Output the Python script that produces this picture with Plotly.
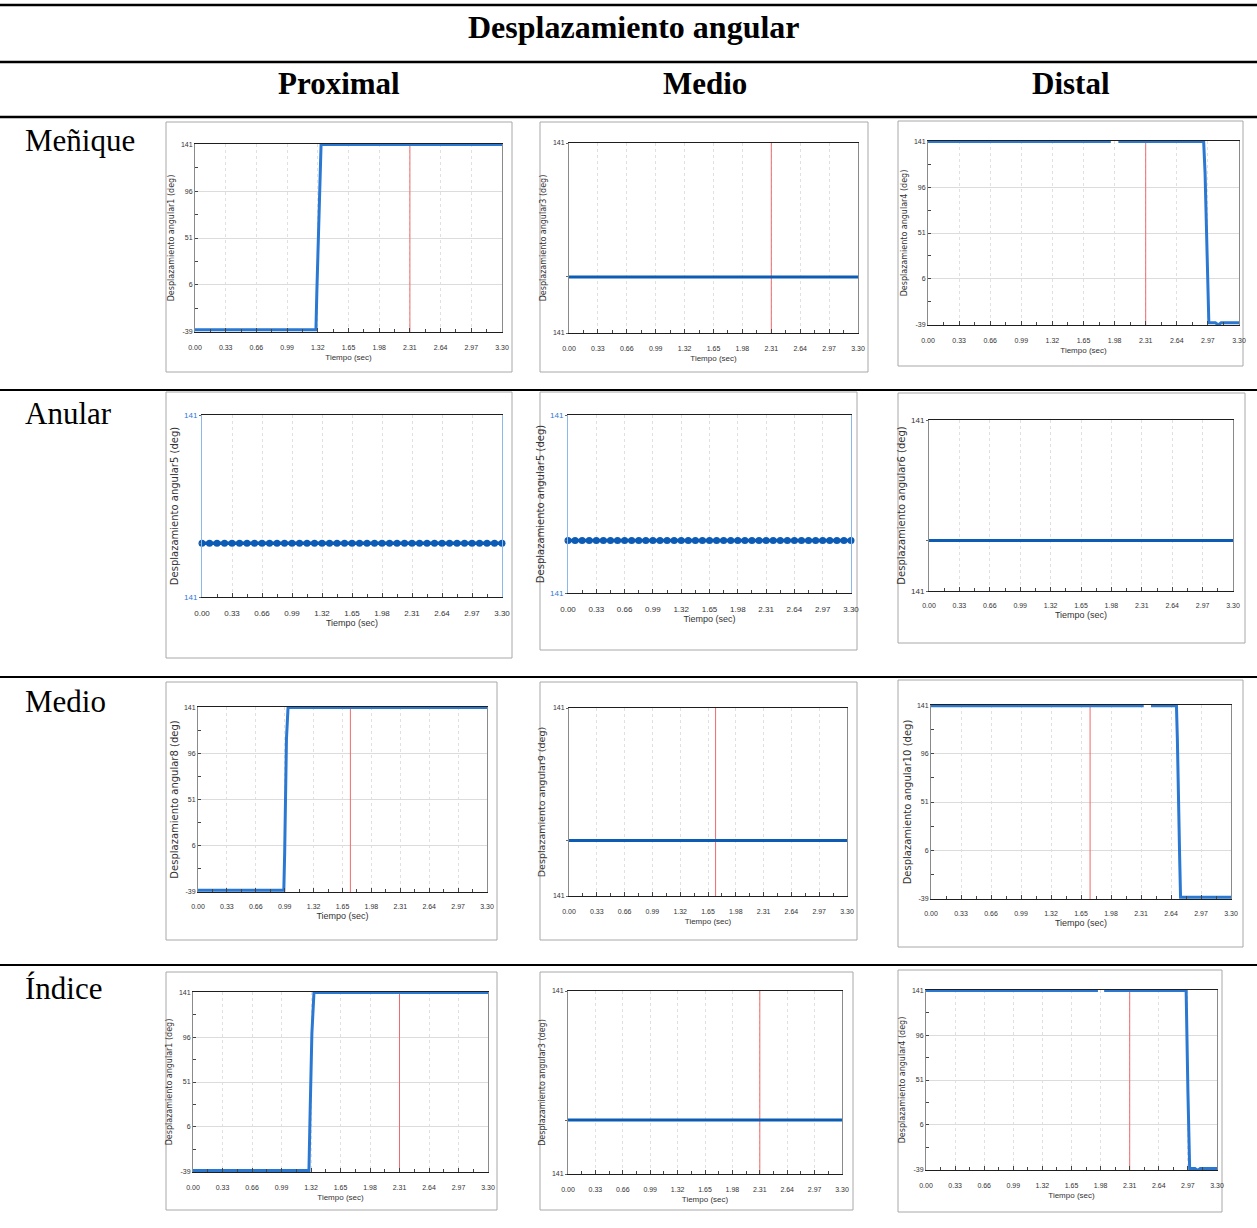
import plotly.graph_objects as go

W, H = 1257, 1228

# ---- table text ----
table_title = "Desplazamiento angular"
column_labels = ["Proximal", "Medio", "Distal"]
row_labels = ["Meñique", "Anular", "Medio", "Índice"]

# ---- axis tick labels ----
time_tickvals = [0.00, 0.33, 0.66, 0.99, 1.32, 1.65, 1.98, 2.31, 2.64, 2.97, 3.30]
time_ticktext = ["0.00", "0.33", "0.66", "0.99", "1.32", "1.65", "1.98", "2.31", "2.64", "2.97", "3.30"]
angle_tickvals = [-39, 6, 51, 96, 141]
angle_ticktext = ["-39", "6", "51", "96", "141"]
step_range = [-39.6, 141.6]
flat_range = [140.705, 141.705]
flat_ticktext = ["141", "", "141"]

# ---- recorded channels: time (s) and angle (deg) ----
menique_prox_t = [0.00, 1.30, 1.31, 1.33, 1.345, 1.355, 3.30]
menique_prox_v = [-37.5, -37.5, 0, 60, 120, 141, 141]
menique_med_t = [0.00, 3.30]
menique_med_v = [141, 141]
menique_dist_t = [0.00, 1.94, 1.95, 2.02, 2.925, 2.94, 2.955, 2.97, 2.98, 3.05, 3.08, 3.11, 3.30]
menique_dist_v = [141, 141, None, 141, 141, 110, 50, 0, -37.5, -37.5, -39.5, -37.5, -37.5]

anular_t = [0.0, 0.0825, 0.165, 0.2475, 0.33, 0.4125, 0.495, 0.5775, 0.66, 0.7425,
            0.825, 0.9075, 0.99, 1.0725, 1.155, 1.2375, 1.32, 1.4025, 1.485, 1.5675,
            1.65, 1.7325, 1.815, 1.8975, 1.98, 2.0625, 2.145, 2.2275, 2.31, 2.3925,
            2.475, 2.5575, 2.64, 2.7225, 2.805, 2.8875, 2.97, 3.0525, 3.135, 3.2175, 3.30]
anular_prox_v = [141, 141, 141, 141, 141, 141, 141, 141, 141, 141,
                 141, 141, 141, 141, 141, 141, 141, 141, 141, 141,
                 141, 141, 141, 141, 141, 141, 141, 141, 141, 141,
                 141, 141, 141, 141, 141, 141, 141, 141, 141, 141, 141]
anular_med_v = [141, 141, 141, 141, 141, 141, 141, 141, 141, 141,
                141, 141, 141, 141, 141, 141, 141, 141, 141, 141,
                141, 141, 141, 141, 141, 141, 141, 141, 141, 141,
                141, 141, 141, 141, 141, 141, 141, 141, 141, 141, 141]
anular_dist_t = [0.00, 3.30]
anular_dist_v = [141, 141]

medio_prox_t = [0.00, 0.98, 0.99, 1.00, 1.01, 1.028, 3.30]
medio_prox_v = [-38, -38, 0, 50, 110, 141, 141]
medio_med_t = [0.00, 3.30]
medio_med_v = [141, 141]
medio_dist_t = [0.00, 2.34, 2.35, 2.42, 2.70, 2.71, 2.72, 2.735, 2.745, 3.30]
medio_dist_v = [141, 141, None, 141, 141, 110, 50, 0, -38, -38]

indice_prox_t = [0.00, 1.297, 1.31, 1.33, 1.353, 3.30]
indice_prox_v = [-38, -38, 20, 100, 141, 141]
indice_med_t = [0.00, 3.30]
indice_med_v = [141, 141]
indice_dist_t = [0.00, 1.95, 1.96, 2.02, 2.95, 2.97, 2.99, 3.05, 3.08, 3.11, 3.30]
indice_dist_v = [141, 141, None, 141, 141, 40, -38, -38, -40, -38, -38]

# cursor time of each capture (None = no cursor)
cursor_times = [2.31, 2.31, 2.31, None, None, None, 1.74, 1.74, 1.75, 2.31, 2.31, 2.31]

channel_names = ["angular1", "angular3", "angular4",
                 "angular5", "angular5", "angular6",
                 "angular8", "angular9", "angular10",
                 "angular1", "angular3", "angular4"]

# ---- layout of the captures (pixels: left, top, right, bottom) ----
panels = [
    dict(t=menique_prox_t, v=menique_prox_v, kind="step", box=(195, 144, 502, 332), frame=(166, 122, 512, 372), fs=8),
    dict(t=menique_med_t, v=menique_med_v, kind="flat", box=(569, 143, 858, 333), frame=(540, 122, 868, 372), fs=8),
    dict(t=menique_dist_t, v=menique_dist_v, kind="step", box=(928, 141, 1239, 325), frame=(898, 121, 1243, 366), fs=8),
    dict(t=anular_t, v=anular_prox_v, kind="dots", box=(202, 415, 502, 597), frame=(166, 392, 512, 658), fs=10),
    dict(t=anular_t, v=anular_med_v, kind="dots", box=(568, 415, 851, 593), frame=(540, 392, 857, 650), fs=10),
    dict(t=anular_dist_t, v=anular_dist_v, kind="flat", box=(929, 420, 1233, 591), frame=(898, 393, 1245, 643), fs=10),
    dict(t=medio_prox_t, v=medio_prox_v, kind="step", box=(198, 707, 487, 892), frame=(166, 682, 497, 940), fs=10),
    dict(t=medio_med_t, v=medio_med_v, kind="flat", box=(569, 708, 847, 896), frame=(540, 682, 857, 940), fs=9.5),
    dict(t=medio_dist_t, v=medio_dist_v, kind="step", box=(931, 705, 1231, 899), frame=(898, 680, 1243, 947), fs=10),
    dict(t=indice_prox_t, v=indice_prox_v, kind="step", box=(193, 992, 488, 1172), frame=(166, 972, 497, 1210), fs=8),
    dict(t=indice_med_t, v=indice_med_v, kind="flat", box=(568, 991, 842, 1174), frame=(540, 972, 853, 1210), fs=8),
    dict(t=indice_dist_t, v=indice_dist_v, kind="step", box=(926, 990, 1217, 1170), frame=(898, 970, 1222, 1212), fs=8),
]

LINE_BLUE = "#2a78d2"
DOT_BLUE = "#0c5cb6"
TICK_FONT = "Liberation Sans Narrow, Liberation Sans, Arial, sans-serif"
TITLE_FONT = "DejaVu Sans, Verdana, sans-serif"
SERIF = "Liberation Serif, Times New Roman, serif"

fig = go.Figure()
layout = {}
shapes = []
annotations = []


def px_x(x):
    return x / W


def px_y(y):
    return 1 - y / H


for i, p in enumerate(panels, start=1):
    xn = "x" if i == 1 else f"x{i}"
    yn = "y" if i == 1 else f"y{i}"
    xkey = "xaxis" if i == 1 else f"xaxis{i}"
    ykey = "yaxis" if i == 1 else f"yaxis{i}"
    l, t, r, b = p["box"]
    big = p["kind"] == "dots" or p["fs"] >= 10
    tick_size = 8 if p["kind"] == "dots" else 7
    yrange = step_range if p["kind"] == "step" else flat_range

    # capture frame
    fl, ft, fr, fb = p["frame"]
    shapes.append(dict(type="rect", xref="paper", yref="paper",
                       x0=px_x(fl), x1=px_x(fr), y0=px_y(fb), y1=px_y(ft),
                       line=dict(color="#a8a8a8", width=1), layer="below"))

    # red time cursor, drawn under the signal
    cur = cursor_times[i - 1]
    if cur is not None:
        fig.add_trace(go.Scatter(x=[cur, cur], y=yrange, mode="lines",
                                 line=dict(color="#f06a6a", width=1),
                                 xaxis=xn, yaxis=yn, showlegend=False, hoverinfo="skip"))

    if p["kind"] == "dots":
        fig.add_trace(go.Scatter(x=p["t"], y=p["v"], mode="lines+markers",
                                 line=dict(color=DOT_BLUE, width=3.5),
                                 marker=dict(color=DOT_BLUE, size=7),
                                 xaxis=xn, yaxis=yn, showlegend=False,
                                 hoverinfo="skip", cliponaxis=False))
    else:
        fig.add_trace(go.Scatter(x=p["t"], y=p["v"], mode="lines",
                                 line=dict(color=LINE_BLUE if p["kind"] == "step" else DOT_BLUE,
                                           width=3),
                                 connectgaps=False,
                                 xaxis=xn, yaxis=yn, showlegend=False, hoverinfo="skip"))

    layout[xkey] = dict(
        domain=[px_x(l), px_x(r)], anchor=yn, range=[0, 3.30], automargin=False,
        tickmode="array", tickvals=time_tickvals, ticktext=time_ticktext,
        ticks="inside", ticklen=4, tickcolor="#444", tickwidth=1,
        ticklabelstandoff=9 if not big else 8,
        tickfont=dict(family=TICK_FONT, size=tick_size, color="#333"),
        minor=dict(ticks="inside", ticklen=3, tick0=0, dtick=0.165,
                   tickcolor="#444", showgrid=False),
        showline=True, linecolor="#1e1e1e", linewidth=1, mirror=True,
        showgrid=True, gridcolor="#e0e0e0", griddash="dot", gridwidth=1,
        zeroline=False, fixedrange=True,
        title=dict(text="Tiempo (sec)", standoff=3,
                   font=dict(family=TICK_FONT, size=8 if not big else 9, color="#333")),
    )

    ytitle = dict(text=f"Desplazamiento {channel_names[i - 1]} (deg)",
                  font=dict(family=TITLE_FONT, size=p["fs"], color="#333"),
                  standoff=5 if p["fs"] < 10 else 3)
    if p["kind"] == "step":
        layout[ykey] = dict(
            domain=[px_y(b), px_y(t)], anchor=xn, range=yrange, automargin=False,
            tickmode="array", tickvals=angle_tickvals, ticktext=angle_ticktext,
            ticks="inside", ticklen=3, tickcolor="#444",
            tickfont=dict(family=TICK_FONT, size=7, color="#333"),
            minor=dict(ticks="inside", ticklen=3, tick0=-39, dtick=22.5,
                       tickcolor="#444", showgrid=False),
            showline=True, linecolor="#8a8a8a", linewidth=1, mirror=True,
            showgrid=True, gridcolor="#dcdcdc", gridwidth=1,
            zeroline=False, fixedrange=True, title=ytitle,
        )
    else:
        dots = p["kind"] == "dots"
        layout[ykey] = dict(
            domain=[px_y(b), px_y(t)], anchor=xn, range=yrange, automargin=False,
            tickmode="array", tickvals=[flat_range[0], 141, flat_range[1]],
            ticktext=flat_ticktext,
            ticks="outside", ticklen=2, tickcolor="#666",
            tickfont=dict(family=TICK_FONT, size=8 if big else 7,
                          color="#2f7ad6" if dots else "#333"),
            showline=True, linecolor="#8db8ec" if dots else "#8a8a8a",
            linewidth=1, mirror=True,
            showgrid=False, zeroline=False, fixedrange=True, title=ytitle,
        )

# ---- table rules ----
for y, w in [(5, 2.5), (62, 2.5), (117, 2.5), (390, 2), (677, 2), (965, 2)]:
    shapes.append(dict(type="line", xref="paper", yref="paper",
                       x0=0, x1=1, y0=px_y(y), y1=px_y(y),
                       line=dict(color="#000000", width=w)))

# ---- table headers ----
annotations.append(dict(text=f"<b>{table_title}</b>", x=px_x(634), y=px_y(27),
                        xref="paper", yref="paper", showarrow=False,
                        xanchor="center", yanchor="middle",
                        font=dict(family=SERIF, size=32, color="#000")))
for label, cx in zip(column_labels, [339, 705, 1071]):
    annotations.append(dict(text=f"<b>{label}</b>", x=px_x(cx), y=px_y(83),
                            xref="paper", yref="paper", showarrow=False,
                            xanchor="center", yanchor="middle",
                            font=dict(family=SERIF, size=31, color="#000")))
for label, cy in zip(row_labels, [140, 413, 701, 988]):
    annotations.append(dict(text=label, x=px_x(23), y=px_y(cy),
                            xref="paper", yref="paper", showarrow=False,
                            xanchor="left", yanchor="middle",
                            font=dict(family=SERIF, size=31, color="#000")))

fig.update_layout(
    width=W, height=H, autosize=False,
    margin=dict(l=0, r=0, t=0, b=0, pad=0),
    paper_bgcolor="white", plot_bgcolor="white",
    shapes=shapes, annotations=annotations,
    showlegend=False, hovermode=False,
    **layout,
)

fig.write_html("out.html", config={"displayModeBar": False})
